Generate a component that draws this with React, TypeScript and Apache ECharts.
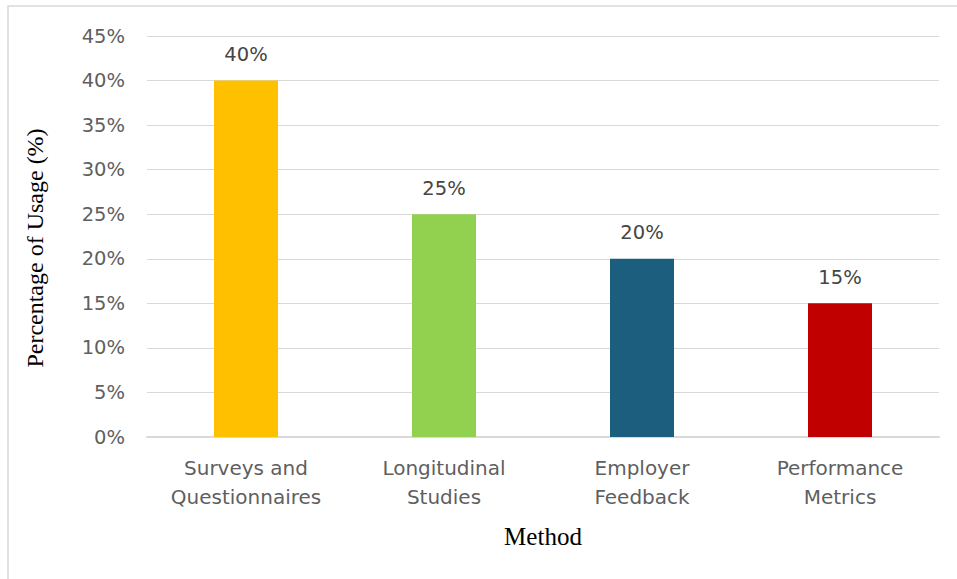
import React, { useEffect, useRef } from "react";
import * as echarts from "echarts";

const categories = ["Surveys and\nQuestionnaires", "Longitudinal\nStudies", "Employer\nFeedback", "Performance\nMetrics"];
const values = [40, 25, 20, 15];
const colors = ["#FFC000", "#92D050", "#1B5E7E", "#C00000"];
const yTicks = [0, 5, 10, 15, 20, 25, 30, 35, 40, 45];
const yTitle = "Percentage of Usage (%)";
const xTitle = "Method";

export default function App() {
  const ref = useRef<HTMLDivElement>(null);
  useEffect(() => {
    if (!ref.current) return;
    const chart = echarts.init(ref.current, null, { renderer: "svg" });
    const sans = "'DejaVu Sans', sans-serif";
    const serif = "'Liberation Serif', 'Times New Roman', serif";
    chart.setOption({
      animation: false,
      backgroundColor: "#ffffff",
      grid: { left: 147, right: 18, top: 36, bottom: 142, containLabel: false },
      xAxis: {
        type: "category",
        data: categories,
        axisLine: { show: true, lineStyle: { color: "#d9d9d9", width: 2 } },
        axisTick: { show: false },
        axisLabel: { color: "#5f5f5f", fontFamily: sans, fontSize: 20, lineHeight: 29, margin: 16, interval: 0 },
      },
      yAxis: {
        type: "value",
        min: yTicks[0],
        max: yTicks[yTicks.length - 1],
        interval: 5,
        axisLine: { show: false },
        axisTick: { show: false },
        splitLine: { lineStyle: { color: "#d9d9d9", width: 1 } },
        axisLabel: { color: "#5f5f5f", fontFamily: sans, fontSize: 19.5, margin: 22, formatter: "{value}%" },
      },
      graphic: [
        { type: "rect", shape: { x: 8, y: 6, width: 1000, height: 1000 }, style: { fill: "none", stroke: "#d9d9d9", lineWidth: 1.5 }, silent: true, z: -1 },
        { type: "text", x: 35, y: 248, rotation: Math.PI / 2, style: { text: yTitle, fontFamily: serif, fontSize: 24, fill: "#000000", textAlign: "center", textVerticalAlign: "middle" } },
        { type: "text", x: 543, y: 536, style: { text: xTitle, fontFamily: serif, fontSize: 25, fill: "#000000", textAlign: "center", textVerticalAlign: "middle" } },
      ],
      series: [
        {
          type: "bar",
          data: values.map((v, i) => ({ value: v, itemStyle: { color: colors[i] } })),
          barWidth: 64,
          label: {
            show: true,
            position: "top",
            distance: 16,
            formatter: "{c}%",
            color: "#454545",
            fontFamily: sans,
            fontSize: 19.5,
          },
        },
      ],
    });
    return () => chart.dispose();
  }, []);
  return <div ref={ref} style={{ position: "fixed", left: 0, top: 0, width: 957, height: 579 }} />;
}
